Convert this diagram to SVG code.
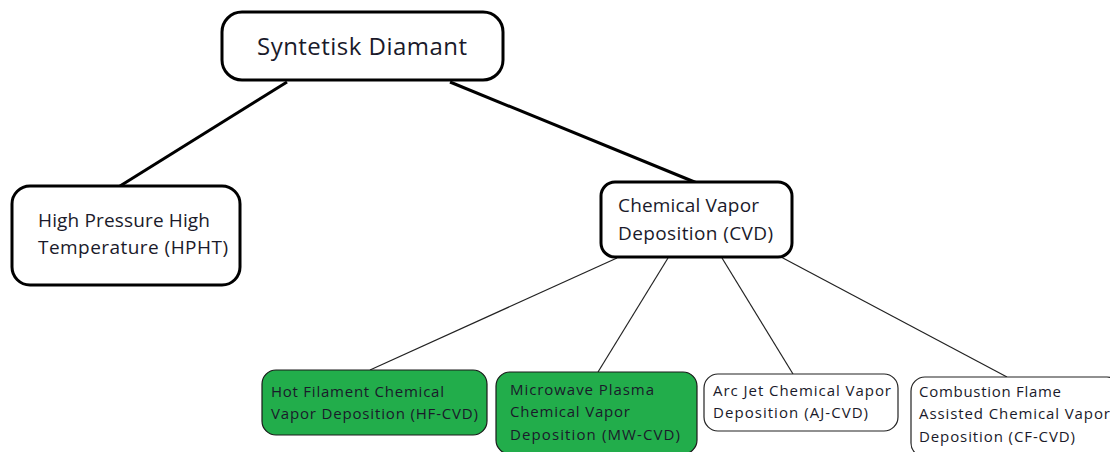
<svg xmlns="http://www.w3.org/2000/svg" width="1110" height="452" viewBox="0 0 1110 452">
<style>
.thick{fill:#fff;stroke:#000;stroke-width:3}
.thin{fill:#fff;stroke:#222;stroke-width:1.2}
.green{fill:#22ad4b;stroke:#1a1a1a;stroke-width:1.2}
text{font-family:"Open Sans","Liberation Sans",sans-serif;fill:#1a1a2a}
.big{font-size:24px}
.mid{font-size:19px}
.sm{font-size:15px}
.c1{stroke:#000;stroke-width:3;fill:none}
.c2{stroke:#222;stroke-width:1.2;fill:none}
</style>
<rect width="1110" height="452" fill="#fff"/>
<g id="connectors">
<line class="c1" x1="287" y1="82" x2="120" y2="186"/>
<line class="c1" x1="450" y1="82" x2="697" y2="183"/>
<line class="c2" x1="617" y1="258" x2="370" y2="370"/>
<line class="c2" x1="668" y1="258" x2="598" y2="372"/>
<line class="c2" x1="722" y1="258" x2="793" y2="374"/>
<line class="c2" x1="781" y1="257" x2="1007" y2="377"/>
</g>
<g id="root">
<rect class="thick" x="222" y="12" width="281" height="68" rx="20"/>
<text class="big" x="362" y="55" text-anchor="middle" textLength="210">Syntetisk Diamant</text>
</g>
<g id="hpht">
<rect class="thick" x="12" y="186" width="228" height="99" rx="18"/>
<text class="mid" x="38" y="227" textLength="172">High Pressure High</text>
<text class="mid" x="38" y="254" textLength="190">Temperature (HPHT)</text>
</g>
<g id="cvd">
<rect class="thick" x="601" y="182" width="191" height="75" rx="14"/>
<text class="mid" x="618" y="212" textLength="141">Chemical Vapor</text>
<text class="mid" x="618" y="240" textLength="155">Deposition (CVD)</text>
</g>
<g id="hfcvd">
<rect class="green" x="262" y="370" width="225" height="65" rx="14"/>
<text class="sm" x="271" y="397" textLength="173">Hot Filament Chemical</text>
<text class="sm" x="271" y="419" textLength="207">Vapor Deposition (HF-CVD)</text>
</g>
<g id="mwcvd">
<rect class="green" x="496" y="372" width="201" height="82" rx="14"/>
<text class="sm" x="510" y="395" textLength="144">Microwave Plasma</text>
<text class="sm" x="510" y="417" textLength="120">Chemical Vapor</text>
<text class="sm" x="510" y="440" textLength="170">Deposition (MW-CVD)</text>
</g>
<g id="ajcvd">
<rect class="thin" x="704" y="374" width="194" height="57" rx="14"/>
<text class="sm" x="713" y="396" textLength="178">Arc Jet Chemical Vapor</text>
<text class="sm" x="713" y="418" textLength="155">Deposition (AJ-CVD)</text>
</g>
<g id="cfcvd">
<rect class="thin" x="911" y="377" width="210" height="80" rx="14"/>
<text class="sm" x="919" y="397" textLength="142">Combustion Flame</text>
<text class="sm" x="919" y="419" textLength="191">Assisted Chemical Vapor</text>
<text class="sm" x="919" y="442" textLength="156">Deposition (CF-CVD)</text>
</g>
</svg>
